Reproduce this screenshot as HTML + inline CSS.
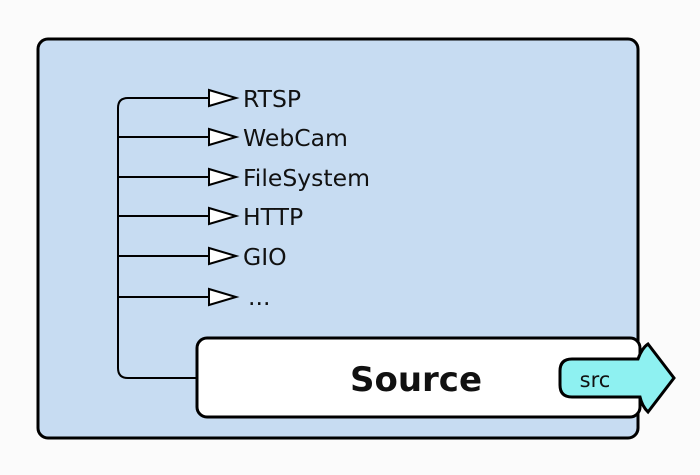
<!DOCTYPE html>
<html><head><style>body{margin:0;background:#fbfbfb}</style></head><body>
<svg width="700" height="470" xmlns="http://www.w3.org/2000/svg" font-family="'DejaVu Sans','Liberation Sans',sans-serif">
<rect x="38" y="39" width="600" height="399" rx="10" fill="#c7dcf2" stroke="#000" stroke-width="3"/>
<g fill="none" stroke="#000" stroke-width="2">
<path d="M210 98 H128 Q118 98 118 108 V368 Q118 378 128 378 H200"/>
<path d="M118 137 H210 M118 177 H210 M118 216 H210 M118 256 H210 M118 297 H210"/>
</g>
<g fill="#fff" stroke="#000" stroke-width="2">
<path d="M209 90 L236 98 L209 106 Z"/><path d="M209 129 L236 137 L209 145 Z"/>
<path d="M209 169 L236 177 L209 185 Z"/><path d="M209 208 L236 216 L209 224 Z"/>
<path d="M209 248 L236 256 L209 264 Z"/><path d="M209 289 L236 297 L209 305 Z"/>
</g>
<g font-size="23.5" fill="#111">
<text x="243" y="107">RTSP</text><text x="243" y="146">WebCam</text>
<text x="243" y="186">FileSystem</text><text x="243" y="225">HTTP</text>
<text x="243" y="265">GIO</text><text x="248" y="305">...</text>
</g>
<rect x="197" y="338" width="443" height="79" rx="10" fill="#fff" stroke="#000" stroke-width="3"/>
<path d="M572 359 H638 Q642 348 648 344 L674 378 L648 412 Q642 406 640 397 H572 Q560 397 560 385 V371 Q560 359 572 359 Z" fill="#8ef1f1" stroke="#000" stroke-width="3"/>
<text x="416" y="391" font-size="34" font-weight="bold" text-anchor="middle" fill="#111">Source</text>
<text x="595" y="387" font-size="21" text-anchor="middle" fill="#111">src</text>
</svg>
</body></html>
